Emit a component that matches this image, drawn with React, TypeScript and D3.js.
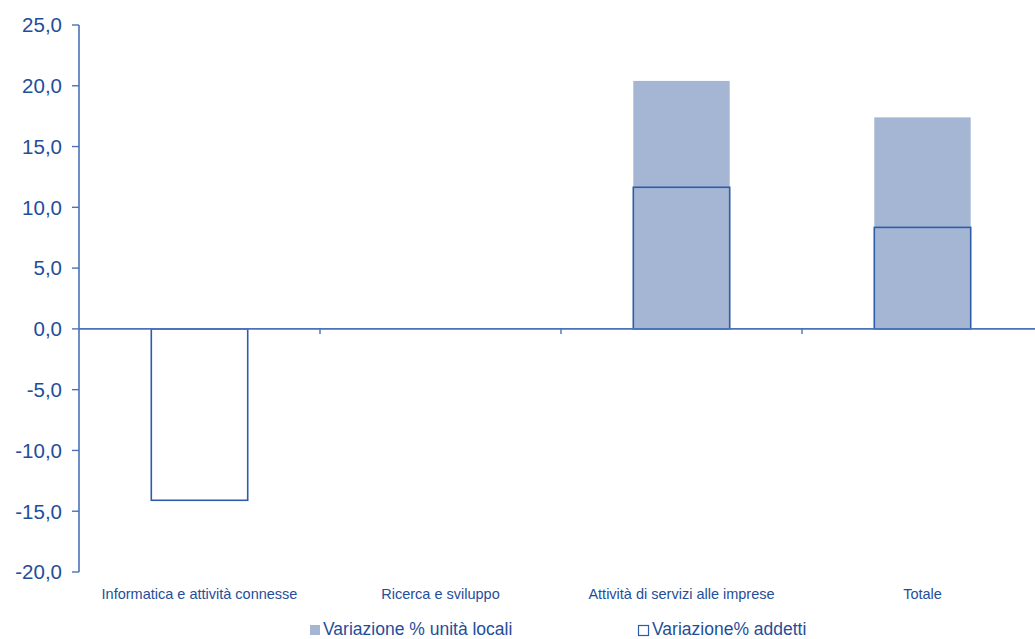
import React from "react";
import * as d3 from "d3";

const categories = [
  "Informatica e attività connesse",
  "Ricerca e sviluppo",
  "Attività di servizi alle imprese",
  "Totale",
];
const unitaLocali = [0, 0, 20.4, 17.4];
const addetti = [-14.1, 0, 11.65, 8.35];
const yTicks = [-20, -15, -10, -5, 0, 5, 10, 15, 20, 25];
const legendLabels = ["Variazione % unità locali", "Variazione% addetti"];

const W = 1035;
const H = 639;
const left = 79;
const bandW = 241;
const top = 25;
const bottom = 572;

const textColor = "#1f4e9a";
const axisColor = "#4a72b8";
const fillColor = "#a4b6d4";
const strokeColor = "#2f5ca8";
const font = "'Liberation Sans', Arial, sans-serif";

export default function App() {
  const x = d3
    .scaleBand<string>()
    .domain(categories)
    .range([left, left + bandW * categories.length])
    .paddingInner(0.6)
    .paddingOuter(0.3);
  const y = d3.scaleLinear().domain([-20, 25]).range([bottom, top]);
  const fmt = (v: number) => v.toFixed(1).replace(".", ",");
  const y0 = y(0);

  return (
    <svg
      width={W}
      height={H}
      style={{ position: "absolute", left: 0, top: 0, background: "#fff" }}
      fontFamily={font}
    >
      {categories.map((c, i) => {
        const v = unitaLocali[i];
        if (v === 0) return null;
        return (
          <rect
            key={"u" + c}
            x={x(c)}
            width={x.bandwidth()}
            y={Math.min(y(v), y0)}
            height={Math.abs(y(v) - y0)}
            fill={fillColor}
          />
        );
      })}
      {categories.map((c, i) => {
        const v = addetti[i];
        if (v === 0) return null;
        return (
          <rect
            key={"a" + c}
            x={x(c)}
            width={x.bandwidth()}
            y={Math.min(y(v), y0)}
            height={Math.abs(y(v) - y0)}
            fill="none"
            stroke={strokeColor}
            strokeWidth={1.6}
          />
        );
      })}
      <line x1={left} x2={W} y1={y0} y2={y0} stroke={axisColor} strokeWidth={1.6} />
      {categories.slice(1).map((c) => (
        <line
          key={"t" + c}
          x1={x(c)! - x.step() * 0.3}
          x2={x(c)! - x.step() * 0.3}
          y1={y0}
          y2={y0 + 5}
          stroke={axisColor}
          strokeWidth={1.4}
        />
      ))}
      <line x1={left} x2={left} y1={top} y2={bottom} stroke={axisColor} strokeWidth={1.6} />
      {yTicks.map((t) => (
        <g key={"y" + t}>
          <line x1={left - 7} x2={left} y1={y(t)} y2={y(t)} stroke={axisColor} strokeWidth={1.4} />
          <text
            x={62}
            y={y(t)}
            dy="0.36em"
            textAnchor="end"
            fontSize={20.5}
            fill={textColor}
          >
            {fmt(t)}
          </text>
        </g>
      ))}
      {categories.map((c) => (
        <text
          key={"c" + c}
          x={x(c)! + x.bandwidth() / 2}
          y={599}
          textAnchor="middle"
          fontSize={14.5}
          fill={textColor}
        >
          {c}
        </text>
      ))}
      <rect x={310} y={625} width={10} height={10} fill={fillColor} />
      <text x={323} y={635} fontSize={17.5} fill={textColor}>
        {legendLabels[0]}
      </text>
      <rect x={638.5} y={625.5} width={10} height={10} fill="none" stroke={strokeColor} strokeWidth={1.2} />
      <text x={652} y={635} fontSize={17.5} fill={textColor}>
        {legendLabels[1]}
      </text>
    </svg>
  );
}
